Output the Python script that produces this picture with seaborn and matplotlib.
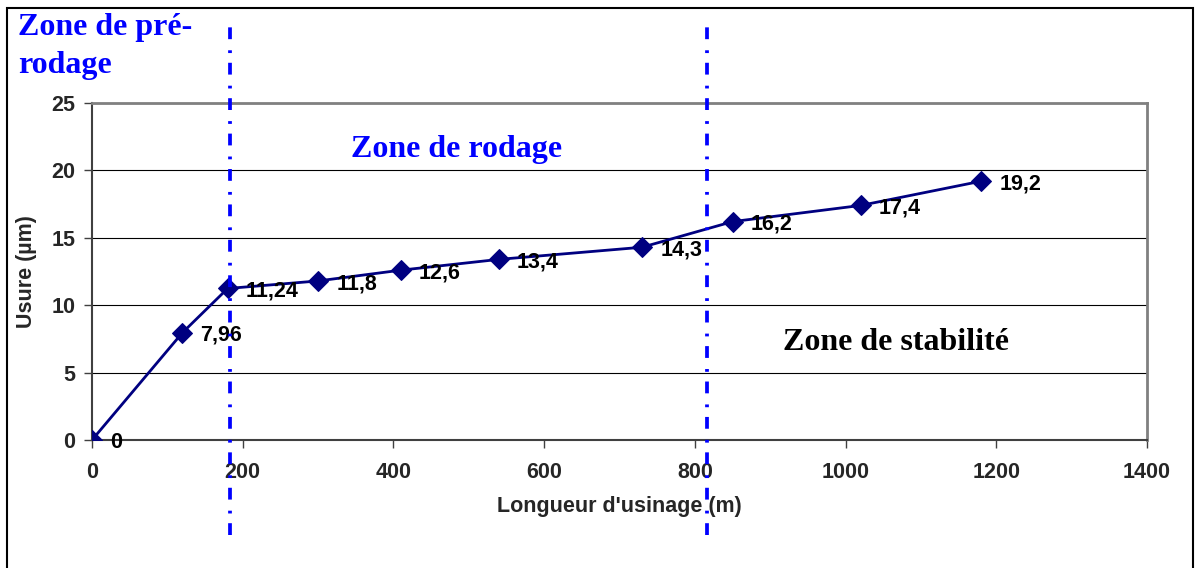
import pandas as pd
import numpy as np
import matplotlib
matplotlib.use("Agg")
import matplotlib.pyplot as plt
import seaborn as sns
from matplotlib.patches import Rectangle

# donnees
longueur = [0, 120, 180, 300, 410, 540, 730, 850, 1020, 1180]
usure = [0, 7.96, 11.24, 11.8, 12.6, 13.4, 14.3, 16.2, 17.4, 19.2]
etiquettes = ["0", "7,96", "11,24", "11,8", "12,6", "13,4", "14,3", "16,2", "17,4", "19,2"]
limites_zones = [183, 816]
x_ticks = [0, 200, 400, 600, 800, 1000, 1200, 1400]
y_ticks = [0, 5, 10, 15, 20, 25]

sns.set_style("white")
plt.rcParams['font.family'] = ['Liberation Sans', 'DejaVu Sans']
plt.rcParams['font.weight'] = 'bold'
plt.rcParams['lines.scale_dashes'] = False

df = pd.DataFrame({"longueur": longueur, "usure": usure})

fig = plt.figure(figsize=(11.95, 5.68), dpi=100)
ax = fig.add_axes([92/1195, 1-440/568, (1147-92)/1195, (440-103)/568])

sns.lineplot(data=df, x="longueur", y="usure", ax=ax, color="#000080", lw=2,
             marker="D", markersize=10, markeredgecolor="#000080", zorder=3)

taille = 15.5
for x, y, t in zip(longueur, usure, etiquettes):
    ax.annotate(t, (x, y), xytext=(13, -2), textcoords="offset points",
                ha="left", va="center", fontsize=taille, fontweight="bold", color="black")

ax.set_xlim(0, 1400)
ax.set_ylim(0, 25)
ax.set_xticks(x_ticks)
ax.set_yticks(y_ticks)
ax.yaxis.grid(True, color="black", lw=0.8)
ax.tick_params(axis="both", direction="out", length=6, width=1, color="#404040",
               labelsize=taille, left=True, bottom=True)
ax.tick_params(axis="x", pad=10)
ax.tick_params(axis="y", pad=6)
for lab in ax.get_xticklabels() + ax.get_yticklabels():
    lab.set_fontweight("bold")

ax.set_xlabel("Longueur d'usinage (m)", fontsize=taille, fontweight="bold", labelpad=9)
ax.set_ylabel("Usure (µm)", fontsize=taille, fontweight="bold", labelpad=10)

for s in ["top", "right"]:
    ax.spines[s].set_color("#808080")
    ax.spines[s].set_linewidth(2)
for s in ["left", "bottom"]:
    ax.spines[s].set_color("#404040")
    ax.spines[s].set_linewidth(1.5)

# limites des zones
for xl in limites_zones:
    ax.axvline(xl, ymin=-0.282, ymax=1.24, color="#0000FF", lw=2.7,
               linestyle=(0, (8.5, 7, 2, 8)), clip_on=False, zorder=4)

serif = ['Liberation Serif', 'DejaVu Serif']
fig.text(18/1195, 1-13/568, "Zone de pré-\nrodage", family=serif, fontsize=23,
         fontweight="bold", color="#0000FF", ha="left", va="top", linespacing=1.4)
fig.text(457/1195, 1-150/568, "Zone de rodage", family=serif, fontsize=23,
         fontweight="bold", color="#0000FF", ha="center", va="center")
fig.text(896/1195, 1-342/568, "Zone de stabilité", family=serif, fontsize=23,
         fontweight="bold", color="black", ha="center", va="center")

# cadre du graphique
fig.patches.append(Rectangle((7/1195, -0.02), (1193-7)/1195, (568-8)/568 + 0.02,
                             transform=fig.transFigure, fill=False, edgecolor="black",
                             lw=1.5, clip_on=False))

fig.savefig("out.png", dpi=100)
